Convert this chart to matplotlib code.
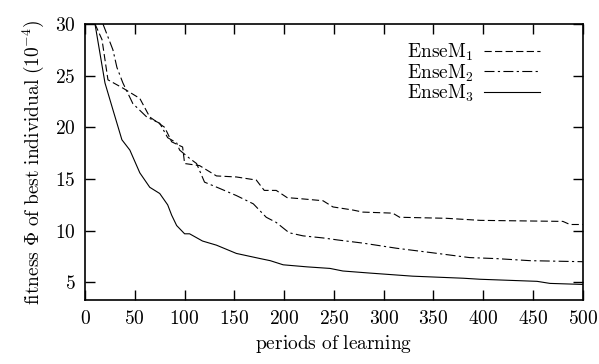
import matplotlib
matplotlib.use("Agg")
import matplotlib.pyplot as plt

plt.rcParams['mathtext.fontset'] = 'cm'
plt.rcParams['font.family'] = 'serif'
plt.rcParams['font.serif'] = ['DejaVu Serif']

# EnseM_1 (dashed)
x1 = [10, 17, 23, 38, 55, 65, 80, 87, 98, 100, 115, 132, 152, 172, 180, 192, 203,
      216, 239, 249, 269, 279, 309, 316, 363, 397, 480, 487, 500]
y1 = [30, 28.5, 24.6, 23.8, 22.8, 21.0, 20.0, 18.6, 18.1, 16.5, 16.3, 15.3, 15.2, 14.9,
      13.9, 13.9, 13.2, 13.1, 12.9, 12.3, 12.0, 11.8, 11.7, 11.3, 11.2, 11.0, 10.9, 10.6, 10.6]

# EnseM_2 (dash-dot)
x2 = [18, 28, 32, 38, 48, 62, 75, 83, 92, 95, 105, 112, 120, 135, 152, 169, 182, 192,
      205, 219, 239, 254, 279, 313, 346, 386, 413, 447, 500]
y2 = [30, 27.5, 25.8, 24.3, 22.3, 21.0, 20.4, 19.0, 18.5, 17.8, 17.0, 16.5, 14.7, 14.1,
      13.4, 12.6, 11.3, 10.8, 9.8, 9.5, 9.3, 9.1, 8.8, 8.3, 7.9, 7.4, 7.3, 7.1, 7.0]

# EnseM_3 (solid)
x3 = [10, 20, 28, 37, 45, 55, 65, 75, 83, 87, 92, 100, 105, 118, 132, 152, 176, 186,
      199, 223, 246, 259, 286, 329, 380, 397, 454, 467, 500]
y3 = [30, 24.3, 21.7, 18.8, 17.8, 15.6, 14.2, 13.6, 12.5, 11.5, 10.5, 9.7, 9.7, 9.0,
      8.6, 7.8, 7.3, 7.1, 6.7, 6.5, 6.35, 6.1, 5.9, 5.6, 5.4, 5.3, 5.1, 4.9, 4.8]

labels = [r'$\mathrm{EnseM}_1$', r'$\mathrm{EnseM}_2$', r'$\mathrm{EnseM}_3$']
xticks = [0, 50, 100, 150, 200, 250, 300, 350, 400, 450, 500]
yticks = [5, 10, 15, 20, 25, 30]

fig = plt.figure(figsize=(5.99, 3.64), dpi=100)
ax = fig.add_axes([0.142, 0.176, 0.831, 0.758])

ax.plot(x1, y1, color='black', lw=0.8, linestyle=(0, (6.5, 3)), label=labels[0])
ax.plot(x2, y2, color='black', lw=0.8, linestyle=(0, (9, 3, 2, 3)), label=labels[1])
ax.plot(x3, y3, color='black', lw=0.8, linestyle='-', label=labels[2])

ax.set_xlim(0, 500)
ax.set_ylim(3.3, 30)
ax.set_xticks(xticks)
ax.set_yticks(yticks)
ax.set_xticklabels(['$%d$' % t for t in xticks], fontsize=14)
ax.set_yticklabels(['$%d$' % t for t in yticks], fontsize=14)
ax.tick_params(direction='in', length=7, width=1, top=True, right=True, pad=7)
for s in ax.spines.values():
    s.set_linewidth(1.2)

ax.set_xlabel(r'$\mathrm{periods\ of\ learning}$', fontsize=14, labelpad=4)
ax.set_ylabel(r'$\mathrm{fitness}\ \Phi\ \mathrm{of\ best\ individual}\ (10^{-4})$',
              fontsize=14, labelpad=6)

ax.legend(loc='upper right', bbox_to_anchor=(0.914, 0.935), frameon=False, markerfirst=False,
          fontsize=14, handlelength=2.9, labelspacing=-0.05, handletextpad=0.5,
          borderaxespad=0, borderpad=0)

fig.savefig('out.png', dpi=100)
